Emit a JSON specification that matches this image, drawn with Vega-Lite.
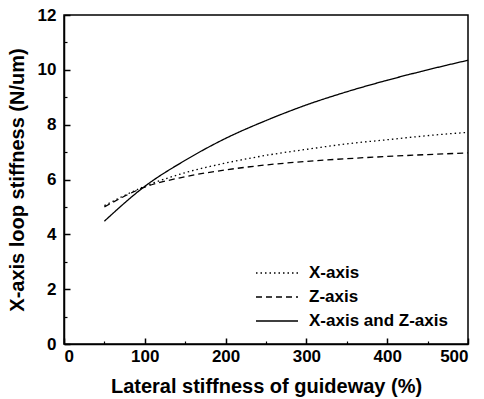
{
  "$schema": "https://vega.github.io/schema/vega-lite/v6.json",
  "width": 404,
  "height": 329,
  "autosize": "none",
  "padding": {"left": 64, "top": 15, "right": 16, "bottom": 55},
  "background": "white",
  "config": {
    "view": {"stroke": "black", "strokeWidth": 1.5},
    "font": "Liberation Sans"
  },
  "data": {
    "values": [
      {"s": 50, "v": 5.05, "series": "X-axis"},
      {"s": 100, "v": 5.75, "series": "X-axis"},
      {"s": 150, "v": 6.25, "series": "X-axis"},
      {"s": 200, "v": 6.6, "series": "X-axis"},
      {"s": 250, "v": 6.88, "series": "X-axis"},
      {"s": 300, "v": 7.1, "series": "X-axis"},
      {"s": 350, "v": 7.3, "series": "X-axis"},
      {"s": 400, "v": 7.45, "series": "X-axis"},
      {"s": 450, "v": 7.6, "series": "X-axis"},
      {"s": 500, "v": 7.72, "series": "X-axis"},
      {"s": 50, "v": 5.0, "series": "Z-axis"},
      {"s": 100, "v": 5.72, "series": "Z-axis"},
      {"s": 150, "v": 6.1, "series": "Z-axis"},
      {"s": 200, "v": 6.35, "series": "Z-axis"},
      {"s": 250, "v": 6.53, "series": "Z-axis"},
      {"s": 300, "v": 6.66, "series": "Z-axis"},
      {"s": 350, "v": 6.76, "series": "Z-axis"},
      {"s": 400, "v": 6.84, "series": "Z-axis"},
      {"s": 450, "v": 6.91, "series": "Z-axis"},
      {"s": 500, "v": 6.97, "series": "Z-axis"},
      {"s": 50, "v": 4.48, "series": "X-axis and Z-axis"},
      {"s": 100, "v": 5.75, "series": "X-axis and Z-axis"},
      {"s": 150, "v": 6.7, "series": "X-axis and Z-axis"},
      {"s": 200, "v": 7.5, "series": "X-axis and Z-axis"},
      {"s": 250, "v": 8.15, "series": "X-axis and Z-axis"},
      {"s": 300, "v": 8.72, "series": "X-axis and Z-axis"},
      {"s": 350, "v": 9.2, "series": "X-axis and Z-axis"},
      {"s": 400, "v": 9.62, "series": "X-axis and Z-axis"},
      {"s": 450, "v": 10.0, "series": "X-axis and Z-axis"},
      {"s": 500, "v": 10.35, "series": "X-axis and Z-axis"}
    ]
  },
  "layer": [
    {
      "mark": {"type": "line", "color": "black", "interpolate": "monotone"},
      "encoding": {
        "x": {
          "field": "s", "type": "quantitative",
          "scale": {"domain": [0, 500], "nice": false},
          "axis": {
            "title": "Lateral stiffness of guideway (%)",
            "values": [0, 100, 200, 300, 400, 500],
            "grid": false, "domainColor": "black", "domainWidth": 1.5,
            "tickColor": "black", "tickSize": -6, "tickWidth": 1.5,
            "labelPadding": 10, "labelFontSize": 17, "labelFontWeight": "bold", "labelColor": "black",
            "titleFontSize": 20, "titleFontWeight": "bold", "titleColor": "black", "titlePadding": 12
          }
        },
        "y": {
          "field": "v", "type": "quantitative",
          "scale": {"domain": [0, 12], "nice": false},
          "axis": {
            "title": "X-axis loop stiffness (N/um)",
            "values": [0, 2, 4, 6, 8, 10, 12],
            "grid": false, "domainColor": "black", "domainWidth": 1.5,
            "tickColor": "black", "tickSize": -6, "tickWidth": 1.5,
            "labelPadding": 14, "labelFontSize": 17, "labelFontWeight": "bold", "labelColor": "black",
            "titleFontSize": 20, "titleFontWeight": "bold", "titleColor": "black", "titlePadding": 10
          }
        },
        "strokeDash": {
          "field": "series", "type": "nominal",
          "scale": {"domain": ["X-axis", "Z-axis", "X-axis and Z-axis"], "range": [[1.5, 3], [6, 4], [1, 0]]},
          "legend": {
            "title": null, "orient": "none", "legendX": 191, "legendY": 250,
            "symbolType": "stroke", "symbolSize": 1764, "symbolStrokeColor": "black", "symbolStrokeWidth": 1.3,
            "clipHeight": 16,
            "labelFontSize": 17, "labelFontWeight": "bold", "labelColor": "black", "labelOffset": 10,
            "rowPadding": 7
          }
        },
        "strokeWidth": {
          "field": "series", "type": "nominal",
          "scale": {"domain": ["X-axis", "Z-axis", "X-axis and Z-axis"], "range": [1.3, 1.3, 1.6]},
          "legend": null
        }
      }
    },
    {
      "mark": {"type": "line", "opacity": 0},
      "encoding": {
        "x": {
          "field": "s", "type": "quantitative",
          "axis": {
            "orient": "bottom", "title": null, "labels": false, "domain": false, "grid": false,
            "values": [50, 150, 250, 350, 450],
            "tickColor": "black", "tickSize": -3, "tickWidth": 1.2
          }
        },
        "y": {
          "field": "v", "type": "quantitative",
          "axis": {
            "orient": "left", "title": null, "labels": false, "domain": false, "grid": false,
            "values": [1, 3, 5, 7, 9, 11],
            "tickColor": "black", "tickSize": -3, "tickWidth": 1.2
          }
        },
        "detail": {"field": "series", "type": "nominal"}
      }
    }
  ],
  "resolve": {"axis": {"x": "independent", "y": "independent"}}
}
